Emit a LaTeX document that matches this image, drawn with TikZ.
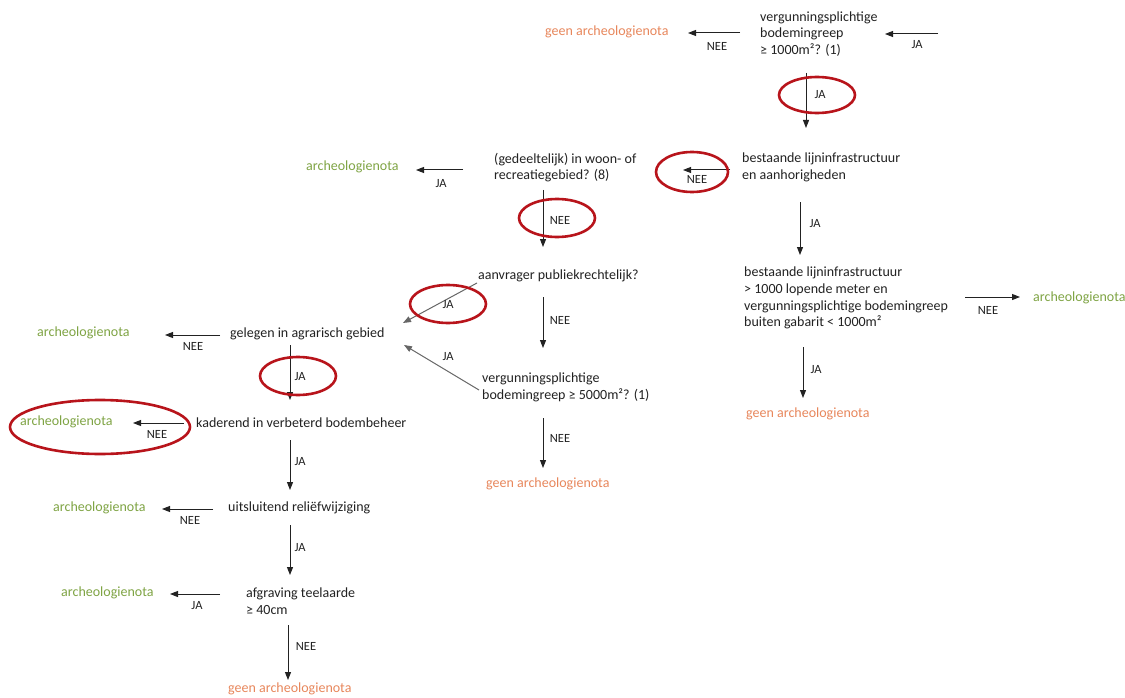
\documentclass[tikz,border=0pt]{standalone}
\usepackage{fontspec}
\setmainfont{Carlito}
\usetikzlibrary{arrows.meta}
\definecolor{txt}{HTML}{222222}
\definecolor{orng}{HTML}{E8875C}
\definecolor{grn}{HTML}{7FA444}
\definecolor{ring}{HTML}{B8141B}
\begin{document}
\begin{tikzpicture}[x=1pt,y=-1pt,
  q/.style={anchor=west,align=left,inner sep=0pt,text=txt,font=\fontsize{14}{16.7}\selectfont},
  yes/.style={anchor=west,inner sep=0pt,text=grn,font=\fontsize{14}{16.7}\selectfont},
  no/.style={anchor=west,inner sep=0pt,text=orng,font=\fontsize{14}{16.7}\selectfont},
  lbl/.style={inner sep=0pt,text=txt,font=\fontsize{12.5}{14}\selectfont},
  arr/.style={draw=txt,line width=1pt,-{Triangle[length=8pt,width=6pt]}},
  diag/.style={draw=black!60,line width=1pt,-{Triangle[length=8pt,width=6pt]}},
  redring/.style={draw=ring,line width=2.6pt}]
\useasboundingbox[fill=white] (0,0) rectangle (1125,698);

% nodes
\node[q] (q1) at (760,34) {vergunningsplichtige\\bodemingreep\\≥ 1000m²? (1)};
\node[no] (n1) at (545,32) {geen archeologienota};
\node[q] (q2) at (742,167.5) {bestaande lijninfrastructuur\\en aanhorigheden};
\node[q] (q3) at (494,167.5) {(gedeeltelijk) in woon- of\\recreatiegebied? (8)};
\node[yes] (y3) at (306,167) {archeologienota};
\node[q] (q4) at (478,276) {aanvrager publiekrechtelijk?};
\node[q] (q5) at (482,387.5) {vergunningsplichtige\\bodemingreep ≥ 5000m²? (1)};
\node[no] (n5) at (486,484) {geen archeologienota};
\node[q] (q6) at (230,334) {gelegen in agrarisch gebied};
\node[yes] (y6) at (37,333) {archeologienota};
\node[q] (q7) at (196,423) {kaderend in verbeterd bodembeheer};
\node[yes] (y7) at (20,422) {archeologienota};
\node[q] (q8) at (228,508) {uitsluitend reliëfwijziging};
\node[yes] (y8) at (53,508) {archeologienota};
\node[q] (q9) at (246,601.5) {afgraving teelaarde\\≥ 40cm};
\node[yes] (y9) at (61,593) {archeologienota};
\node[no] (n9) at (228,689) {geen archeologienota};
\node[q] (q10) at (744,298) {bestaande lijninfrastructuur\\> 1000 lopende meter en\\vergunningsplichtige bodemingreep\\buiten gabarit < 1000m²};
\node[yes] (y10) at (1033,298) {archeologienota};
\node[no] (n10) at (746,414) {geen archeologienota};

% start
\coordinate (s) at (938,34);

% connectors
\draw[arr] (s) -- (885,34);
\draw[arr] (740,33) -- (688,33);
\draw[arr] (806,73) -- (806,128);
\draw[arr] (730,170) -- (683,170);
\draw[arr] (463,170) -- (416,170);
\draw[arr] (543,190) -- (543,247);
\draw[diag] (477,283) -- (403,323);
\draw[arr] (543,297) -- (543,348);
\draw[diag] (479,390) -- (404,345);
\draw[arr] (543,418) -- (543,468);
\draw[arr] (220,335) -- (165,335);
\draw[arr] (290,345) -- (290,400);
\draw[arr] (184,423) -- (133,423);
\draw[arr] (290,440) -- (290,490);
\draw[arr] (213,509) -- (162,509);
\draw[arr] (290,525) -- (290,575);
\draw[arr] (220,594) -- (170,594);
\draw[arr] (288,625) -- (288,680);
\draw[arr] (800,202) -- (800,255);
\draw[arr] (965,297) -- (1020,297);
\draw[arr] (803,347) -- (803,398);

% labels
\node[lbl] (l1) at (917,45) {JA};
\node[lbl] (l2) at (717,46) {NEE};
\node[lbl] (l3) at (820,95) {JA};
\node[lbl] (l4) at (697,179) {NEE};
\node[lbl] (l5) at (441,184) {JA};
\node[lbl] (l6) at (560,220) {NEE};
\node[lbl] (l7) at (815,224) {JA};
\node[lbl] (l8) at (448,305) {JA};
\node[lbl] (l9) at (560,320) {NEE};
\node[lbl] (l10) at (448,357) {JA};
\node[lbl] (l11) at (560,438) {NEE};
\node[lbl] (l12) at (193,346) {NEE};
\node[lbl] (l13) at (300,377) {JA};
\node[lbl] (l14) at (157,434) {NEE};
\node[lbl] (l15) at (300,462) {JA};
\node[lbl] (l16) at (190,520) {NEE};
\node[lbl] (l17) at (300,548) {JA};
\node[lbl] (l18) at (197,606) {JA};
\node[lbl] (l19) at (306,646) {NEE};
\node[lbl] (l20) at (988,310) {NEE};
\node[lbl] (l21) at (816,370) {JA};

% red highlight rings
\draw[redring] (817,95) ellipse [x radius=38,y radius=18];
\draw[redring] (692,172) ellipse [x radius=36,y radius=20];
\draw[redring] (557,218) ellipse [x radius=38,y radius=19];
\draw[redring] (448,304) ellipse [x radius=38,y radius=19];
\draw[redring] (298,376) ellipse [x radius=38,y radius=19];
\draw[redring] (100,427) ellipse [x radius=90,y radius=27];
\end{tikzpicture}
\end{document}
